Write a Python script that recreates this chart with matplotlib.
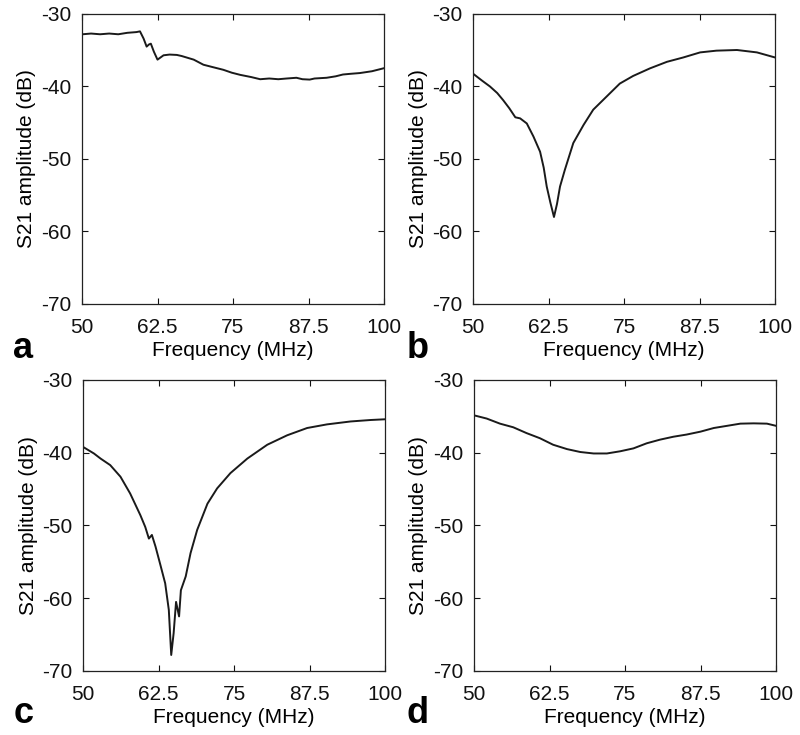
import numpy as np
import matplotlib
matplotlib.use('Agg')
import matplotlib.pyplot as plt

plt.rcParams['font.family'] = ['Liberation Sans', 'DejaVu Sans']
plt.rcParams['axes.unicode_minus'] = False

# panel a: flat, small step near 60 MHz
freq_a = [50.1, 51.5, 53.0, 54.5, 56.0, 57.5, 59.0, 59.6, 60.2, 60.7, 61.1, 61.4, 61.9, 62.5,
          63.5, 64.5, 65.7, 66.5, 67.3, 68.5, 70.1, 71.5, 73.4, 74.8, 76.2, 78.0, 79.5, 81.0,
          82.5, 83.9, 85.5, 86.5, 87.7, 88.5, 90.5, 92.0, 93.2, 94.5, 96.0, 98.0, 99.9]
s21_a = [-32.8, -32.7, -32.8, -32.7, -32.8, -32.6, -32.5, -32.4, -33.4, -34.5, -34.2, -34.1, -35.2, -36.3,
         -35.7, -35.6, -35.65, -35.8, -36.0, -36.3, -37.0, -37.3, -37.7, -38.1, -38.4, -38.7, -39.0, -38.9,
         -39.0, -38.9, -38.8, -39.0, -39.05, -38.9, -38.8, -38.6, -38.35, -38.25, -38.15, -37.9, -37.5]

# panel b: single dip near 63.4 MHz
freq_b = [50.1, 51.5, 52.8, 54.0, 55.0, 56.0, 57.0, 57.8, 58.9, 60.0, 61.1, 61.7, 62.2, 62.8,
          63.4, 63.9, 64.4, 65.2, 66.6, 68.3, 69.9, 72.1, 74.3, 76.5, 79.3, 82.1, 84.8, 87.6,
          90.3, 93.7, 97.0, 100.0]
s21_b = [-38.3, -39.2, -40.0, -40.9, -41.9, -43.0, -44.25, -44.4, -45.1, -46.9, -49.0, -51.2, -53.8, -56.0,
         -58.0, -56.2, -53.8, -51.5, -47.8, -45.3, -43.2, -41.4, -39.6, -38.55, -37.5, -36.6, -36.0, -35.3,
         -35.06, -34.97, -35.3, -36.0]

# panel c: deep dip near 64.6 MHz with side notches
freq_c = [50.2, 51.8, 52.9, 54.5, 56.2, 57.8, 59.5, 60.3, 60.9, 61.4, 62.0, 62.8, 63.6, 64.2,
          64.6, 65.0, 65.4, 65.9, 66.2, 67.0, 67.8, 68.9, 70.6, 72.2, 74.4, 77.2, 80.5, 83.8,
          87.1, 90.4, 94.3, 97.6, 100.0]
s21_c = [-39.3, -40.1, -40.8, -41.7, -43.3, -45.6, -48.6, -50.2, -51.8, -51.3, -52.9, -55.4, -57.95, -61.6,
         -67.8, -64.8, -60.5, -62.5, -58.9, -57.0, -53.8, -50.6, -47.0, -44.9, -42.8, -40.8, -38.9, -37.6,
         -36.6, -36.1, -35.7, -35.5, -35.4]

# panel d: broad shallow minimum near 71 MHz
freq_d = [50.2, 52.1, 54.3, 56.5, 58.7, 60.9, 63.1, 65.4, 67.6, 69.8, 72.0, 74.2, 76.4, 78.6,
          80.8, 83.0, 85.2, 87.5, 89.7, 91.9, 94.1, 96.3, 98.5, 100.0]
s21_d = [-34.9, -35.3, -36.0, -36.5, -37.3, -38.0, -38.9, -39.5, -39.9, -40.1, -40.1, -39.8, -39.4, -38.7,
         -38.2, -37.8, -37.5, -37.1, -36.6, -36.3, -36.0, -35.96, -36.0, -36.3]

panels = [(freq_a, s21_a, 'a'), (freq_b, s21_b, 'b'), (freq_c, s21_c, 'c'), (freq_d, s21_d, 'd')]
xticks = [50, 62.5, 75, 87.5, 100]
xticklabels = ['50', '62.5', '75', '87.5', '100']
yticks = [-70, -60, -50, -40, -30]

fig = plt.figure(figsize=(8, 7.35), dpi=100)

# axes rectangles in figure fraction (left, bottom, width, height)
rects = [
    [0.1025, 0.5864, 0.3775, 0.3946],
    [0.5913, 0.5864, 0.3775, 0.3946],
    [0.1038, 0.0871, 0.3775, 0.3959],
    [0.5925, 0.0871, 0.3775, 0.3959],
]
letter_pos = [(0.016, 0.513), (0.508, 0.513), (0.017, 0.0163), (0.508, 0.0163)]

for (fx, fy, lab), rc, lp in zip(panels, rects, letter_pos):
    ax = fig.add_axes(rc)
    ax.plot(fx, fy, color='#1a1a1a', linewidth=1.4)
    ax.set_xlim(50, 100)
    ax.set_ylim(-70, -30)
    ax.set_xticks(xticks)
    ax.set_xticklabels(xticklabels)
    ax.set_yticks(yticks)
    ax.set_yticklabels([str(v) for v in yticks])
    ax.tick_params(direction='in', length=4, width=0.8, top=True, right=True,
                   labelsize=15, colors='#111111')
    ax.tick_params(axis='x', pad=10)
    ax.tick_params(axis='y', pad=8)
    for sp in ax.spines.values():
        sp.set_linewidth(0.9)
        sp.set_color('#222222')
    ax.set_xlabel('Frequency (MHz)', fontsize=15, labelpad=3)
    ax.set_ylabel('S21 amplitude (dB)', fontsize=15, labelpad=3)
    fig.text(lp[0], lp[1], lab, fontsize=26, fontweight='bold', va='baseline', ha='left')

plt.savefig('out.png', dpi=100)
